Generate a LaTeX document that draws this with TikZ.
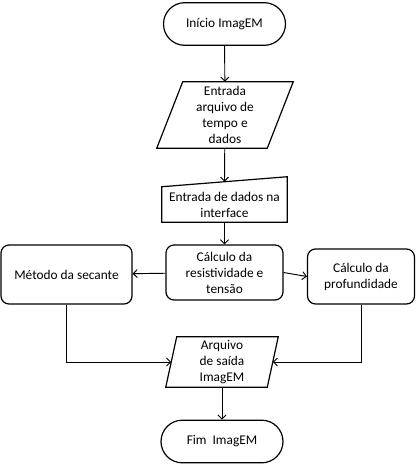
\documentclass[tikz,border=0pt]{standalone}
\usepackage{fontspec}
\setmainfont{Carlito}
\usetikzlibrary{%
  arrows.meta,
  calc
}

\tikzset{
  term/.style={draw, line width=0.9pt, rounded corners=16pt,
               minimum width=91.5pt, minimum height=32pt, align=center},
  proc/.style={draw, line width=0.9pt, rounded corners=6pt,
               minimum height=41.25pt, align=center},
  io/.style={inner sep=0pt, align=center},
  seta/.style={-{Straight Barb[length=3pt,width=6pt]}, line width=0.7pt}
}

\begin{document}
\begin{tikzpicture}[x=0.75pt, y=-0.75pt, font=\fontsize{10}{12}\selectfont]

  \useasboundingbox (0,0) rectangle (416,465);

  \node[term] (ini) at (224.5,24) {Início ImagEM};

  \node[io, minimum width=82.5pt, minimum height=49.5pt] (arq) at (225,115)
    {Entrada\\arquivo de\\tempo e\\dados};
  \draw[line width=0.9pt] ($(arq.south west)+(-13,0)$) -- ($(arq.south east)+(-13,0)$)
    -- ($(arq.north east)+(13,0)$) -- ($(arq.north west)+(13,0)$) -- cycle;

  \node[io, minimum width=93.75pt, minimum height=26.25pt] (dad) at (224.5,204.5)
    {Entrada de dados na\\interface};
  \draw[line width=0.9pt] (dad.south west) -- (dad.south east)
    -- ($(dad.north east)+(0,-10)$) -- (dad.north west) -- cycle;

  \node[proc, minimum width=87.75pt] (res) at (224.5,272.5)
    {Cálculo da\\resistividade e\\tensão};
  \node[proc, minimum width=98.25pt, minimum height=44.25pt] (sec) at (66.5,274.5)
    {Método da secante};
  \node[proc, minimum width=80.25pt] (pro) at (361,276.5)
    {Cálculo da\\profundidade};

  \node[io, minimum width=75.75pt, minimum height=37.5pt] (sai) at (222,362)
    {Arquivo\\de saída\\ImagEM};
  \draw[line width=0.9pt] ($(sai.south west)+(-5.5,0)$) -- ($(sai.south east)+(-5.5,0)$)
    -- ($(sai.north east)+(5.5,0)$) -- ($(sai.north west)+(5.5,0)$) -- cycle;

  \node[term] (fim) at (222,441.5) {Fim~ ImagEM};

  % ligacoes
  \draw[seta] (ini) -- (arq);
  \draw[seta] (arq) -- ($(dad.north)+(0,-5)$);
  \draw[seta] (dad) -- (res);
  \draw[seta] (res) -- (sec);
  \draw[seta] (res.east) -- (pro.west);
  \draw[seta] (sec) |- (sai.west);
  \draw[seta] (pro) |- (sai.east);
  \draw[seta] (sai) -- (fim);

\end{tikzpicture}
\end{document}
